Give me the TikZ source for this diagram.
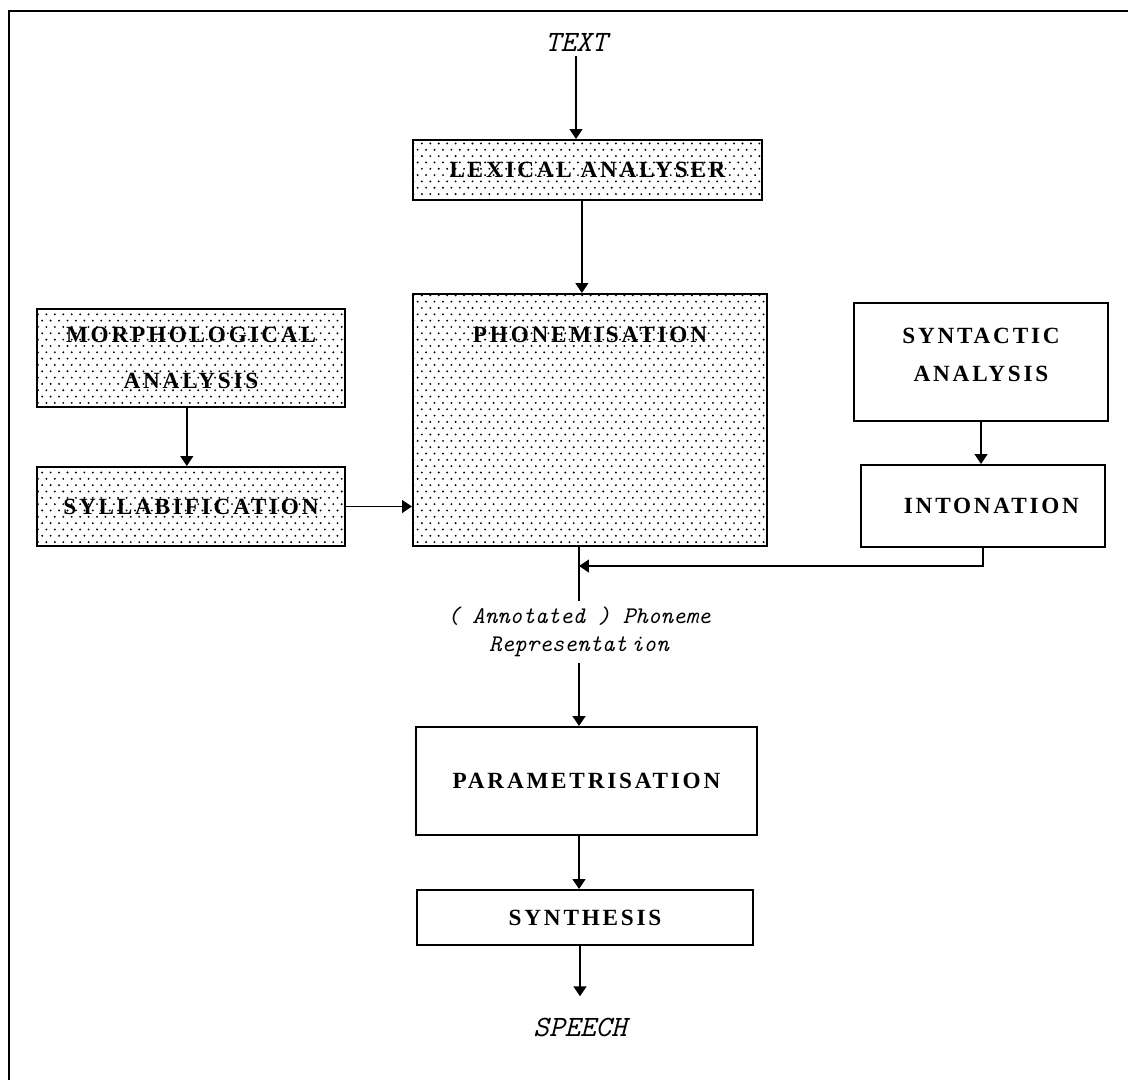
\documentclass[tikz,border=0pt]{standalone}
\usepackage{fontspec}
\setmainfont{Liberation Serif}
\newfontfamily\boxfont{Liberation Serif Bold}[LetterSpace=12]
\usetikzlibrary{arrows.meta,patterns,calc}

% stippled fill used by the text-processing modules
\pgfdeclarepatternformonly{stipple}{\pgfqpoint{-1pt}{-1pt}}{\pgfqpoint{7pt}{10pt}}{\pgfqpoint{6pt}{9pt}}{
  \pgfpathcircle{\pgfqpoint{0pt}{0pt}}{0.75pt}
  \pgfpathcircle{\pgfqpoint{3pt}{4.5pt}}{0.75pt}
  \pgfusepath{fill}}

\tikzset{
  module/.style={draw, line width=1.4pt, inner sep=0pt, align=center,
    font=\boxfont\fontsize{16.5}{27}\selectfont},
  dotted module/.style={module, pattern=stipple},
  caption/.style={module, draw=none},
  flow/.style={line width=1.3pt, -{Triangle[width=9pt,length=7pt]}},
  wire/.style={line width=1.3pt},
  io/.style={inner sep=0pt, font=\ttfamily\itshape\fontsize{21}{24}\selectfont\addfontfeature{LetterSpace=10}},
  note/.style={inner sep=0pt, align=center, font=\ttfamily\itshape\fontsize{17}{19.5}\selectfont},
}

\begin{document}
\begin{tikzpicture}[x=0.025cm, y=-0.025cm]
\useasboundingbox (0,0) rectangle (1128,1080);

% page frame (top and left edges)
\draw[line width=1.6pt] (1128,11) -- (9,11) -- (9,1080);

% input
\node[io] (text) at (576,42) {TEXT};

% modules
\node[dotted module, minimum width=8.725cm, minimum height=1.5cm] (lex) at (587.5,170) {LEXICAL ANALYSER};
\node[dotted module, minimum width=8.85cm, minimum height=6.3cm,
      label={[caption, anchor=north, yshift=-0.83cm]north:PHONEMISATION}] (phon) at (590,420) {};
\node[dotted module, minimum width=7.7cm, minimum height=2.45cm] (morph) at (191,358) {MORPHOLOGICAL\\[6pt]ANALYSIS};
\node[dotted module, minimum width=7.7cm, minimum height=1.975cm] (syll) at (191,506.5) {SYLLABIFICATION};
\node[module, minimum width=6.35cm, minimum height=2.95cm,
      label={[caption, yshift=5pt]center:SYNTACTIC\\ANALYSIS}] (synt) at (981,362) {};
\node[module, minimum width=6.1cm, minimum height=2.05cm] (inton) at (983,506) {\hspace*{12pt}INTONATION};
\node[module, minimum width=8.525cm, minimum height=2.7cm] (param) at (586.5,781) {PARAMETRISATION};
\node[module, minimum width=8.375cm, minimum height=1.375cm] (synth) at (585,917.5) {SYNTHESIS};

% intermediate representation and output
\node[note, inner ysep=4pt] (ann) at (579,632) {( Annotated ) Phoneme\\Representat\,ion};
\node[io] (speech) at (580,1027) {SPEECH};

% connectors
\draw[flow] ([yshift=-3pt]text.south) -- (text.south |- lex.north);
\draw[flow] ([xshift=-4pt]lex.south) -- ([xshift=-4pt]lex.south |- phon.north);
\draw[flow] ([xshift=-3pt]morph.south) -- ([xshift=-3pt]morph.south |- syll.north);
\draw[flow] (syll.east) -- (syll.east -| phon.west);
\draw[flow] (synt.south) -- (synt.south |- inton.north);
\draw[wire] (phon.south -| ann.north) -- (ann.north);
\coordinate (merge) at (ann.north |- 0,566);
\draw[flow] (inton.south) |- (merge);
\draw[flow] (ann.south) -- (ann.south |- param.north);
\draw[flow] (ann.south |- param.south) -- (ann.south |- synth.north);
\draw[flow] (synth.south -| speech.north) -- ([yshift=15pt]speech.north);
\end{tikzpicture}
\end{document}
